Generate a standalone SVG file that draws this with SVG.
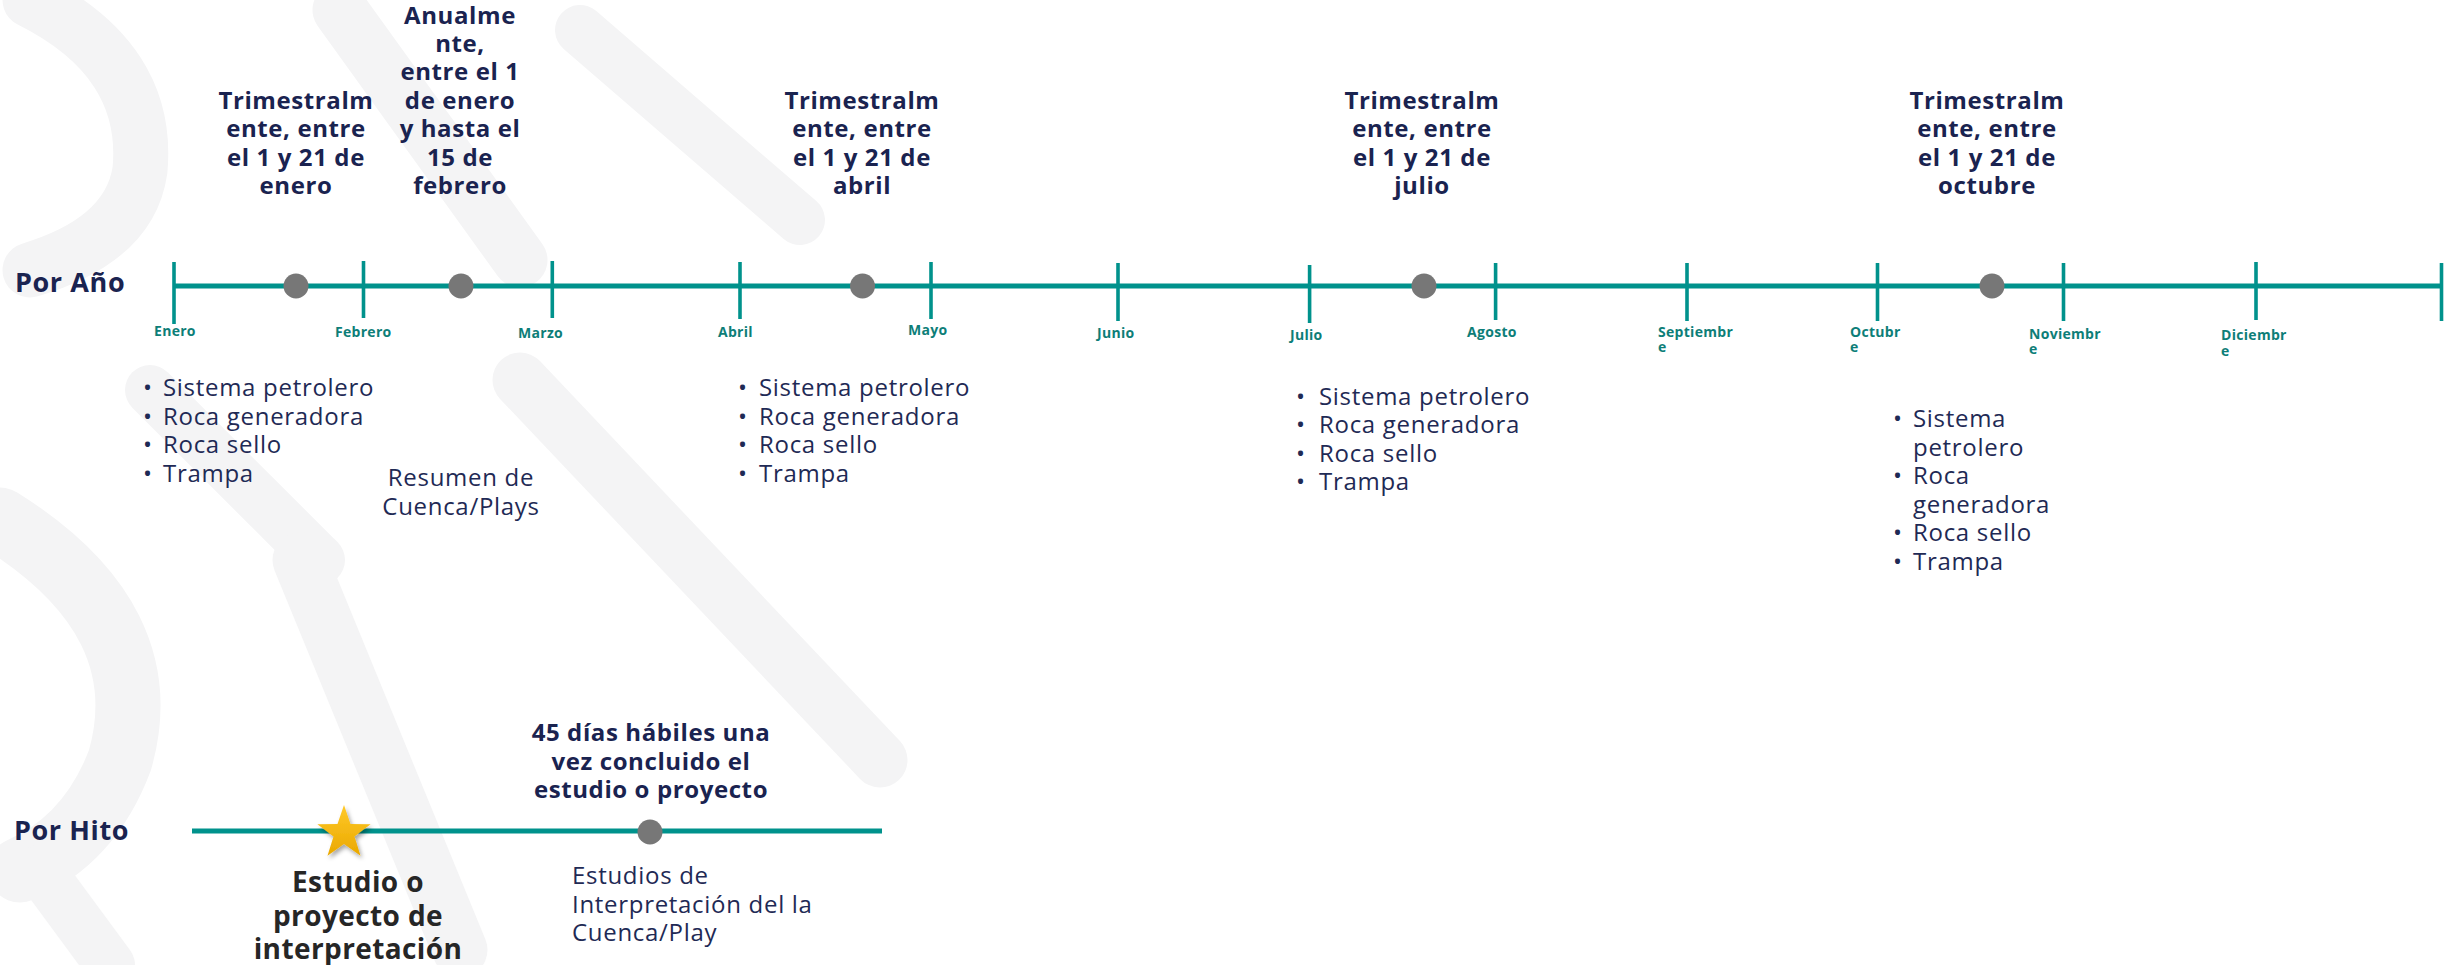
<svg xmlns="http://www.w3.org/2000/svg" width="2453" height="965" viewBox="0 0 2453 965">
<defs>
<style>
.bg{fill:#ffffff}
.wm{fill:none;stroke:#f4f4f5;stroke-linecap:round}
.axis{stroke:#00928c;stroke-width:5;fill:none}
.tick{stroke:#00928c;stroke-width:3.6}
.dot{fill:#777777}
.h{font-family:"Open Sans","Liberation Sans",sans-serif;font-weight:700;font-size:24px;fill:#1a2350;text-anchor:middle;letter-spacing:0.6px}
.m{font-family:"Open Sans","Liberation Sans",sans-serif;font-weight:700;font-size:14px;fill:#0d7e78;letter-spacing:0.3px}
.li{font-family:"Open Sans","Liberation Sans",sans-serif;font-weight:400;font-size:24px;fill:#1f2a55;letter-spacing:0.7px}
.ctr{text-anchor:middle}
.lbl{font-family:"Open Sans","Liberation Sans",sans-serif;font-weight:700;font-size:27px;fill:#1a2350;letter-spacing:0.6px}
.big{font-family:"Open Sans","Liberation Sans",sans-serif;font-weight:700;font-size:28px;fill:#262626;text-anchor:middle;letter-spacing:0.4px}
</style>
<linearGradient id="gold" x1="0" y1="0" x2="0" y2="1">
<stop offset="0" stop-color="#ffc928"/>
<stop offset="1" stop-color="#eaa800"/>
</linearGradient>
<filter id="shadow" x="-30%" y="-30%" width="160%" height="160%">
<feDropShadow dx="2" dy="3" stdDeviation="2" flood-color="#000000" flood-opacity="0.35"/>
</filter>
</defs>
<rect class="bg" x="0" y="0" width="2453" height="965"/>

<g id="watermark">
<path class="wm" stroke-width="55" d="M30 0 Q150 60 140 170 Q130 240 30 270"/>
<path class="wm" stroke-width="55" d="M340 10 L520 260"/>
<path class="wm" stroke-width="50" d="M580 30 L800 220"/>
<path class="wm" stroke-width="50" d="M150 390 L320 560"/>
<path class="wm" stroke-width="55" d="M520 380 L880 760"/>
<path class="wm" stroke-width="55" d="M300 560 L460 950"/>
<path class="wm" stroke-width="65" d="M0 520 Q160 620 120 760 Q90 840 20 870"/>
<path class="wm" stroke-width="50" d="M40 870 L110 965"/>
</g>

<g id="labels-rows">
<text class="lbl" x="15" y="292">Por Año</text>
<text class="lbl" x="14" y="840">Por Hito</text>
</g>

<g id="connectors">
<line class="axis" x1="174" y1="286" x2="2441" y2="286"/>
<line class="tick" x1="174" y1="262" x2="174" y2="324"/>
<line class="tick" x1="363.5" y1="261" x2="363.5" y2="318"/>
<line class="tick" x1="552.3" y1="261" x2="552.3" y2="318"/>
<line class="tick" x1="740" y1="262" x2="740" y2="319"/>
<line class="tick" x1="931" y1="262" x2="931" y2="319"/>
<line class="tick" x1="1118" y1="263" x2="1118" y2="321"/>
<line class="tick" x1="1309.6" y1="265" x2="1309.6" y2="323"/>
<line class="tick" x1="1495.6" y1="263" x2="1495.6" y2="320"/>
<line class="tick" x1="1687" y1="263" x2="1687" y2="321"/>
<line class="tick" x1="1877.5" y1="263" x2="1877.5" y2="321"/>
<line class="tick" x1="2063.5" y1="263" x2="2063.5" y2="321"/>
<line class="tick" x1="2256" y1="262" x2="2256" y2="320"/>
<line class="tick" x1="2441.5" y1="263" x2="2441.5" y2="321"/>
<line class="axis" x1="192" y1="831" x2="882" y2="831"/>
</g>

<g id="months">
<text class="m" x="154" y="336">Enero</text>
<text class="m" x="335" y="337">Febrero</text>
<text class="m" x="518" y="338">Marzo</text>
<text class="m" x="718" y="337">Abril</text>
<text class="m" x="908" y="335">Mayo</text>
<text class="m" x="1097" y="338">Junio</text>
<text class="m" x="1290" y="340">Julio</text>
<text class="m" x="1467" y="337">Agosto</text>
<text class="m" x="1658" y="337">Septiembr<tspan x="1658" y="352">e</tspan></text>
<text class="m" x="1850" y="337">Octubr<tspan x="1850" y="352">e</tspan></text>
<text class="m" x="2029" y="339">Noviembr<tspan x="2029" y="354">e</tspan></text>
<text class="m" x="2221" y="340">Diciembr<tspan x="2221" y="356">e</tspan></text>
</g>

<g id="node-enero">
<circle class="dot" cx="296" cy="286" r="12.5"/>
<text class="h" x="296" y="108.8">Trimestralm<tspan x="296" y="137.2">ente, entre</tspan><tspan x="296" y="165.6">el 1 y 21 de</tspan><tspan x="296" y="194">enero</tspan></text>
<text class="li" y="396"><tspan x="143">•</tspan><tspan x="163">Sistema petrolero</tspan><tspan x="143" y="424.5">•</tspan><tspan x="163">Roca generadora</tspan><tspan x="143" y="453">•</tspan><tspan x="163">Roca sello</tspan><tspan x="143" y="481.5">•</tspan><tspan x="163">Trampa</tspan></text>
</g>

<g id="node-anual">
<circle class="dot" cx="461" cy="286" r="12.5"/>
<text class="h" x="460" y="23.5">Anualme<tspan x="460" y="51.9">nte,</tspan><tspan x="460" y="80.3">entre el 1</tspan><tspan x="460" y="108.7">de enero</tspan><tspan x="460" y="137.1">y hasta el</tspan><tspan x="460" y="165.5">15 de</tspan><tspan x="460" y="193.9">febrero</tspan></text>
<text class="li ctr" x="461" y="486">Resumen de<tspan x="461" y="514.5">Cuenca/Plays</tspan></text>
</g>

<g id="node-abril">
<circle class="dot" cx="862.5" cy="286" r="12.5"/>
<text class="h" x="862" y="108.8">Trimestralm<tspan x="862" y="137.2">ente, entre</tspan><tspan x="862" y="165.6">el 1 y 21 de</tspan><tspan x="862" y="194">abril</tspan></text>
<text class="li" y="396"><tspan x="738">•</tspan><tspan x="759">Sistema petrolero</tspan><tspan x="738" y="424.5">•</tspan><tspan x="759">Roca generadora</tspan><tspan x="738" y="453">•</tspan><tspan x="759">Roca sello</tspan><tspan x="738" y="481.5">•</tspan><tspan x="759">Trampa</tspan></text>
</g>

<g id="node-julio">
<circle class="dot" cx="1424" cy="286" r="12.5"/>
<text class="h" x="1422" y="108.8">Trimestralm<tspan x="1422" y="137.2">ente, entre</tspan><tspan x="1422" y="165.6">el 1 y 21 de</tspan><tspan x="1422" y="194">julio</tspan></text>
<text class="li" y="404.5"><tspan x="1296">•</tspan><tspan x="1319">Sistema petrolero</tspan><tspan x="1296" y="433">•</tspan><tspan x="1319">Roca generadora</tspan><tspan x="1296" y="461.5">•</tspan><tspan x="1319">Roca sello</tspan><tspan x="1296" y="490">•</tspan><tspan x="1319">Trampa</tspan></text>
</g>

<g id="node-octubre">
<circle class="dot" cx="1992" cy="286" r="12.5"/>
<text class="h" x="1987" y="108.8">Trimestralm<tspan x="1987" y="137.2">ente, entre</tspan><tspan x="1987" y="165.6">el 1 y 21 de</tspan><tspan x="1987" y="194">octubre</tspan></text>
<text class="li" y="427"><tspan x="1893">•</tspan><tspan x="1913">Sistema</tspan><tspan x="1913" y="455.5">petrolero</tspan><tspan x="1893" y="484">•</tspan><tspan x="1913">Roca</tspan><tspan x="1913" y="512.5">generadora</tspan><tspan x="1893" y="541">•</tspan><tspan x="1913">Roca sello</tspan><tspan x="1893" y="569.5">•</tspan><tspan x="1913">Trampa</tspan></text>
</g>

<g id="node-estudio">
<polygon fill="url(#gold)" filter="url(#shadow)" points="344,805 350.5,824.1 370.6,824.3 354.5,836.4 360.5,855.7 344,844 327.5,855.7 333.5,836.4 317.4,824.3 337.5,824.1"/>
<text class="big" x="358" y="892">Estudio o<tspan x="358" y="925.5">proyecto de</tspan><tspan x="358" y="959">interpretación</tspan></text>
</g>

<g id="node-45dias">
<circle class="dot" cx="650" cy="832" r="12.5"/>
<text class="h" x="651" y="741">45 días hábiles una<tspan x="651" y="769.5">vez concluido el</tspan><tspan x="651" y="798">estudio o proyecto</tspan></text>
<text class="li" x="572" y="884">Estudios de<tspan x="572" y="912.5">Interpretación del la</tspan><tspan x="572" y="941">Cuenca/Play</tspan></text>
</g>
</svg>
